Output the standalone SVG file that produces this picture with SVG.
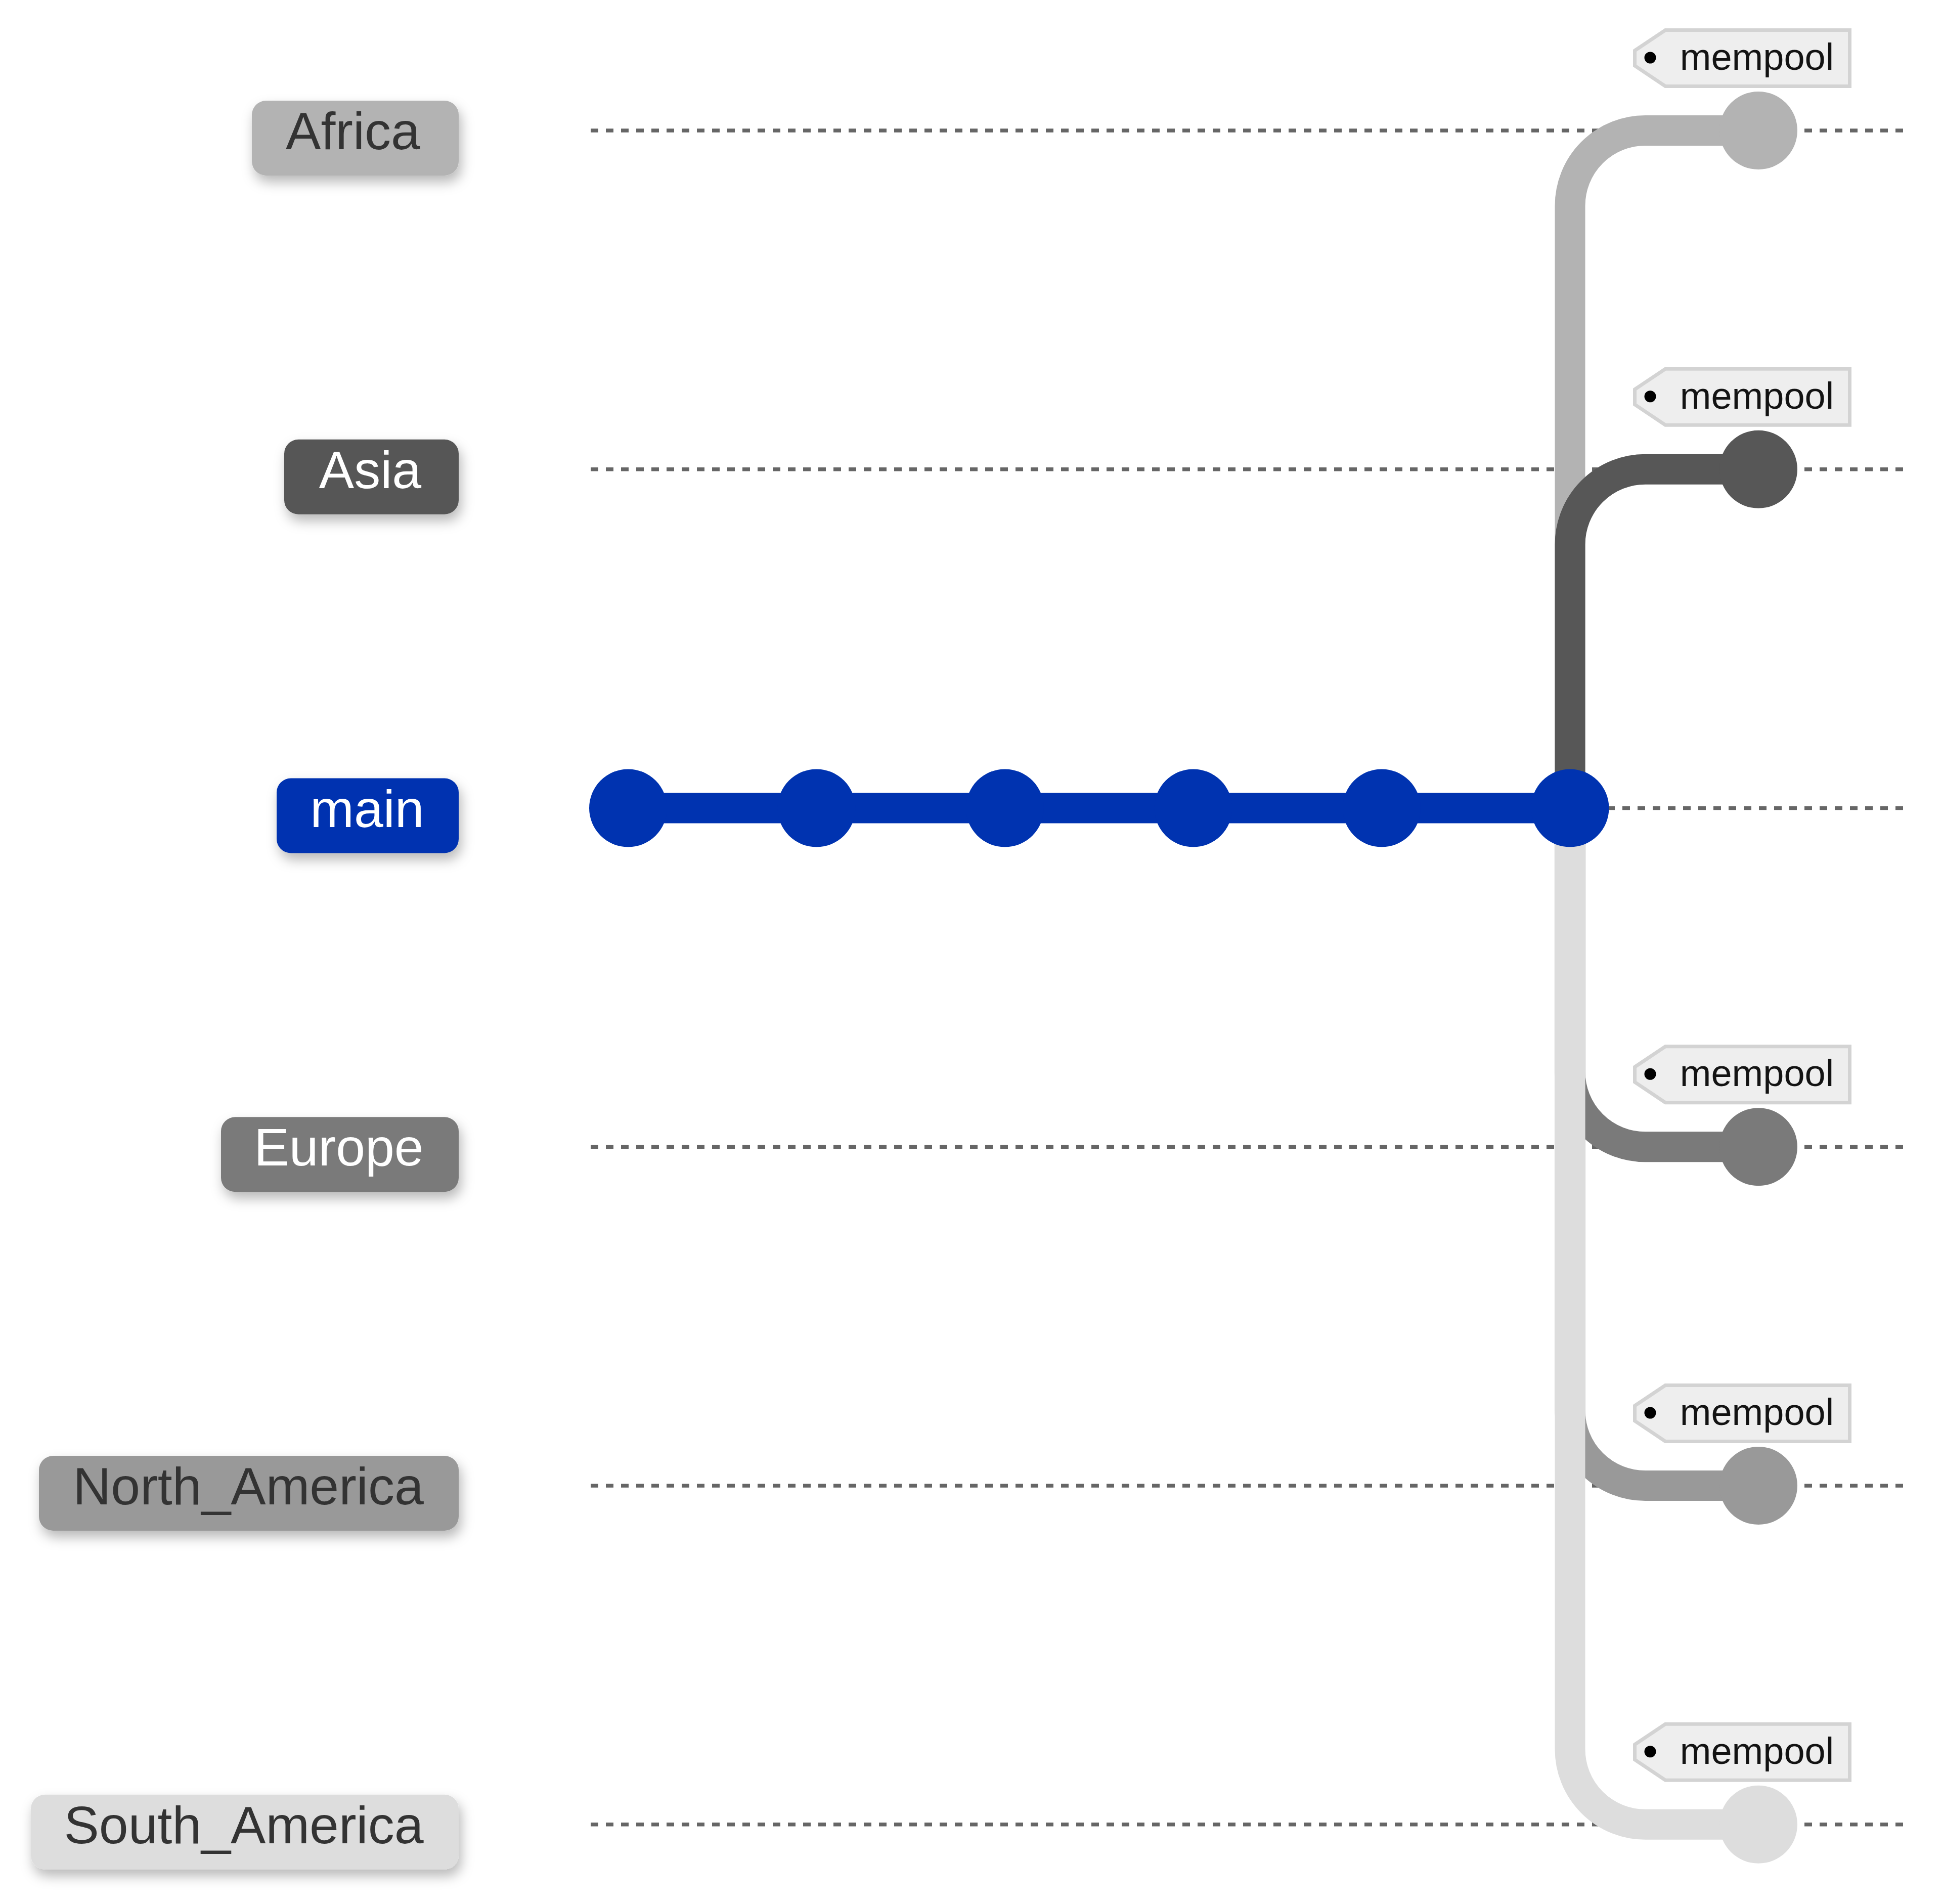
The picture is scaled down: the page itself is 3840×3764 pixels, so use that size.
<svg xmlns="http://www.w3.org/2000/svg" width="3840" height="3764" viewBox="0 0 3840 3764">
<defs>
<filter id="sh" x="-20%" y="-40%" width="140%" height="200%">
<feDropShadow dx="5" dy="13" stdDeviation="12" flood-color="#000" flood-opacity="0.28"/>
</filter>
</defs>
<style>
.lane{stroke:#666666;stroke-width:7.5;stroke-dasharray:15 15;fill:none}
.br{fill:none;stroke-width:60}
.lbl{font-family:"Liberation Sans",Arial,sans-serif;font-size:104px;text-anchor:middle}
.tag{fill:#eeeeee;stroke:#d3d3d3;stroke-width:7}
.tagt{font-family:"Liberation Sans",Arial,sans-serif;font-size:74px;fill:#131313;text-anchor:middle}
</style>
<rect width="3840" height="3764" fill="#ffffff"/>
<g id="lanes">
<line class="lane" x1="1168" y1="258" x2="3774" y2="258"/>
<line class="lane" x1="1168" y1="927.75" x2="3774" y2="927.75"/>
<line class="lane" x1="1168" y1="1597.5" x2="3774" y2="1597.5"/>
<line class="lane" x1="1168" y1="2267.25" x2="3774" y2="2267.25"/>
<line class="lane" x1="1168" y1="2937" x2="3774" y2="2937"/>
<line class="lane" x1="1168" y1="3606.75" x2="3774" y2="3606.75"/>
</g>
<g id="connectors">
<path class="br" stroke="#0033b0" d="M 1242 1597.5 L 3104.5 1597.5"/>
<path class="br" stroke="#b3b3b3" d="M 3104.5 1597.5 L 3104.5 406.8 A 148.8 148.8 0 0 1 3253.3 258 L 3477 258"/>
<path class="br" stroke="#575757" d="M 3104.5 1597.5 L 3104.5 1076.55 A 148.8 148.8 0 0 1 3253.3 927.75 L 3477 927.75"/>
<path class="br" stroke="#7a7a7a" d="M 3104.5 1597.5 L 3104.5 2118.45 A 148.8 148.8 0 0 0 3253.3 2267.25 L 3477 2267.25"/>
<path class="br" stroke="#999999" d="M 3104.5 1597.5 L 3104.5 2788.2 A 148.8 148.8 0 0 0 3253.3 2937 L 3477 2937"/>
<path class="br" stroke="#dddddd" d="M 3104.5 1597.5 L 3104.5 3457.95 A 148.8 148.8 0 0 0 3253.3 3606.75 L 3477 3606.75"/>
</g>
<g id="commits-main" fill="#0033b0">
<circle cx="1242" cy="1597.5" r="77"/>
<circle cx="1614.5" cy="1597.5" r="77"/>
<circle cx="1987" cy="1597.5" r="77"/>
<circle cx="2359.5" cy="1597.5" r="77"/>
<circle cx="2732" cy="1597.5" r="77"/>
<circle cx="3104.5" cy="1597.5" r="77"/>
</g>
<g id="commit-africa"><circle cx="3477" cy="258" r="77" fill="#b3b3b3"/></g>
<g id="commit-asia"><circle cx="3477" cy="927.75" r="77" fill="#575757"/></g>
<g id="commit-europe"><circle cx="3477" cy="2267.25" r="77" fill="#7a7a7a"/></g>
<g id="commit-na"><circle cx="3477" cy="2937" r="77" fill="#999999"/></g>
<g id="commit-sa"><circle cx="3477" cy="3606.75" r="77" fill="#dddddd"/></g>
<g id="tag-africa" transform="translate(0,258)">
<polygon class="tag" points="3232.5,-158 3293,-198.5 3657.5,-198.5 3657.5,-87.5 3293,-87.5 3232.5,-128"/>
<circle cx="3263" cy="-144" r="11.5" fill="#000"/>
<text class="tagt" x="3474" y="-120">mempool</text>
</g>
<g id="tag-asia" transform="translate(0,927.75)">
<polygon class="tag" points="3232.5,-158 3293,-198.5 3657.5,-198.5 3657.5,-87.5 3293,-87.5 3232.5,-128"/>
<circle cx="3263" cy="-144" r="11.5" fill="#000"/>
<text class="tagt" x="3474" y="-120">mempool</text>
</g>
<g id="tag-europe" transform="translate(0,2267.25)">
<polygon class="tag" points="3232.5,-158 3293,-198.5 3657.5,-198.5 3657.5,-87.5 3293,-87.5 3232.5,-128"/>
<circle cx="3263" cy="-144" r="11.5" fill="#000"/>
<text class="tagt" x="3474" y="-120">mempool</text>
</g>
<g id="tag-na" transform="translate(0,2937)">
<polygon class="tag" points="3232.5,-158 3293,-198.5 3657.5,-198.5 3657.5,-87.5 3293,-87.5 3232.5,-128"/>
<circle cx="3263" cy="-144" r="11.5" fill="#000"/>
<text class="tagt" x="3474" y="-120">mempool</text>
</g>
<g id="tag-sa" transform="translate(0,3606.75)">
<polygon class="tag" points="3232.5,-158 3293,-198.5 3657.5,-198.5 3657.5,-87.5 3293,-87.5 3232.5,-128"/>
<circle cx="3263" cy="-144" r="11.5" fill="#000"/>
<text class="tagt" x="3474" y="-120">mempool</text>
</g>
<g id="label-africa" transform="translate(0,258)">
<rect x="498" y="-59" width="409" height="148" rx="28" fill="#b3b3b3" filter="url(#sh)"/>
<text class="lbl" x="698" y="37" fill="#333333">Africa</text>
</g>
<g id="label-asia" transform="translate(0,927.75)">
<rect x="562" y="-59" width="345" height="148" rx="28" fill="#575757" filter="url(#sh)"/>
<text class="lbl" x="732" y="37" fill="#ffffff">Asia</text>
</g>
<g id="label-main" transform="translate(0,1597.5)">
<rect x="547" y="-59" width="360" height="148" rx="28" fill="#0033b0" filter="url(#sh)"/>
<text class="lbl" x="726" y="37" fill="#ffffff">main</text>
</g>
<g id="label-europe" transform="translate(0,2267.25)">
<rect x="437" y="-59" width="470" height="148" rx="28" fill="#7a7a7a" filter="url(#sh)"/>
<text class="lbl" x="670" y="37" fill="#ffffff">Europe</text>
</g>
<g id="label-na" transform="translate(0,2937)">
<rect x="77" y="-59" width="830" height="148" rx="28" fill="#999999" filter="url(#sh)"/>
<text class="lbl" x="491" y="37" fill="#333333">North_America</text>
</g>
<g id="label-sa" transform="translate(0,3606.75)">
<rect x="61" y="-59" width="846" height="148" rx="28" fill="#dddddd" filter="url(#sh)"/>
<text class="lbl" x="482" y="37" fill="#333333">South_America</text>
</g>
</svg>
